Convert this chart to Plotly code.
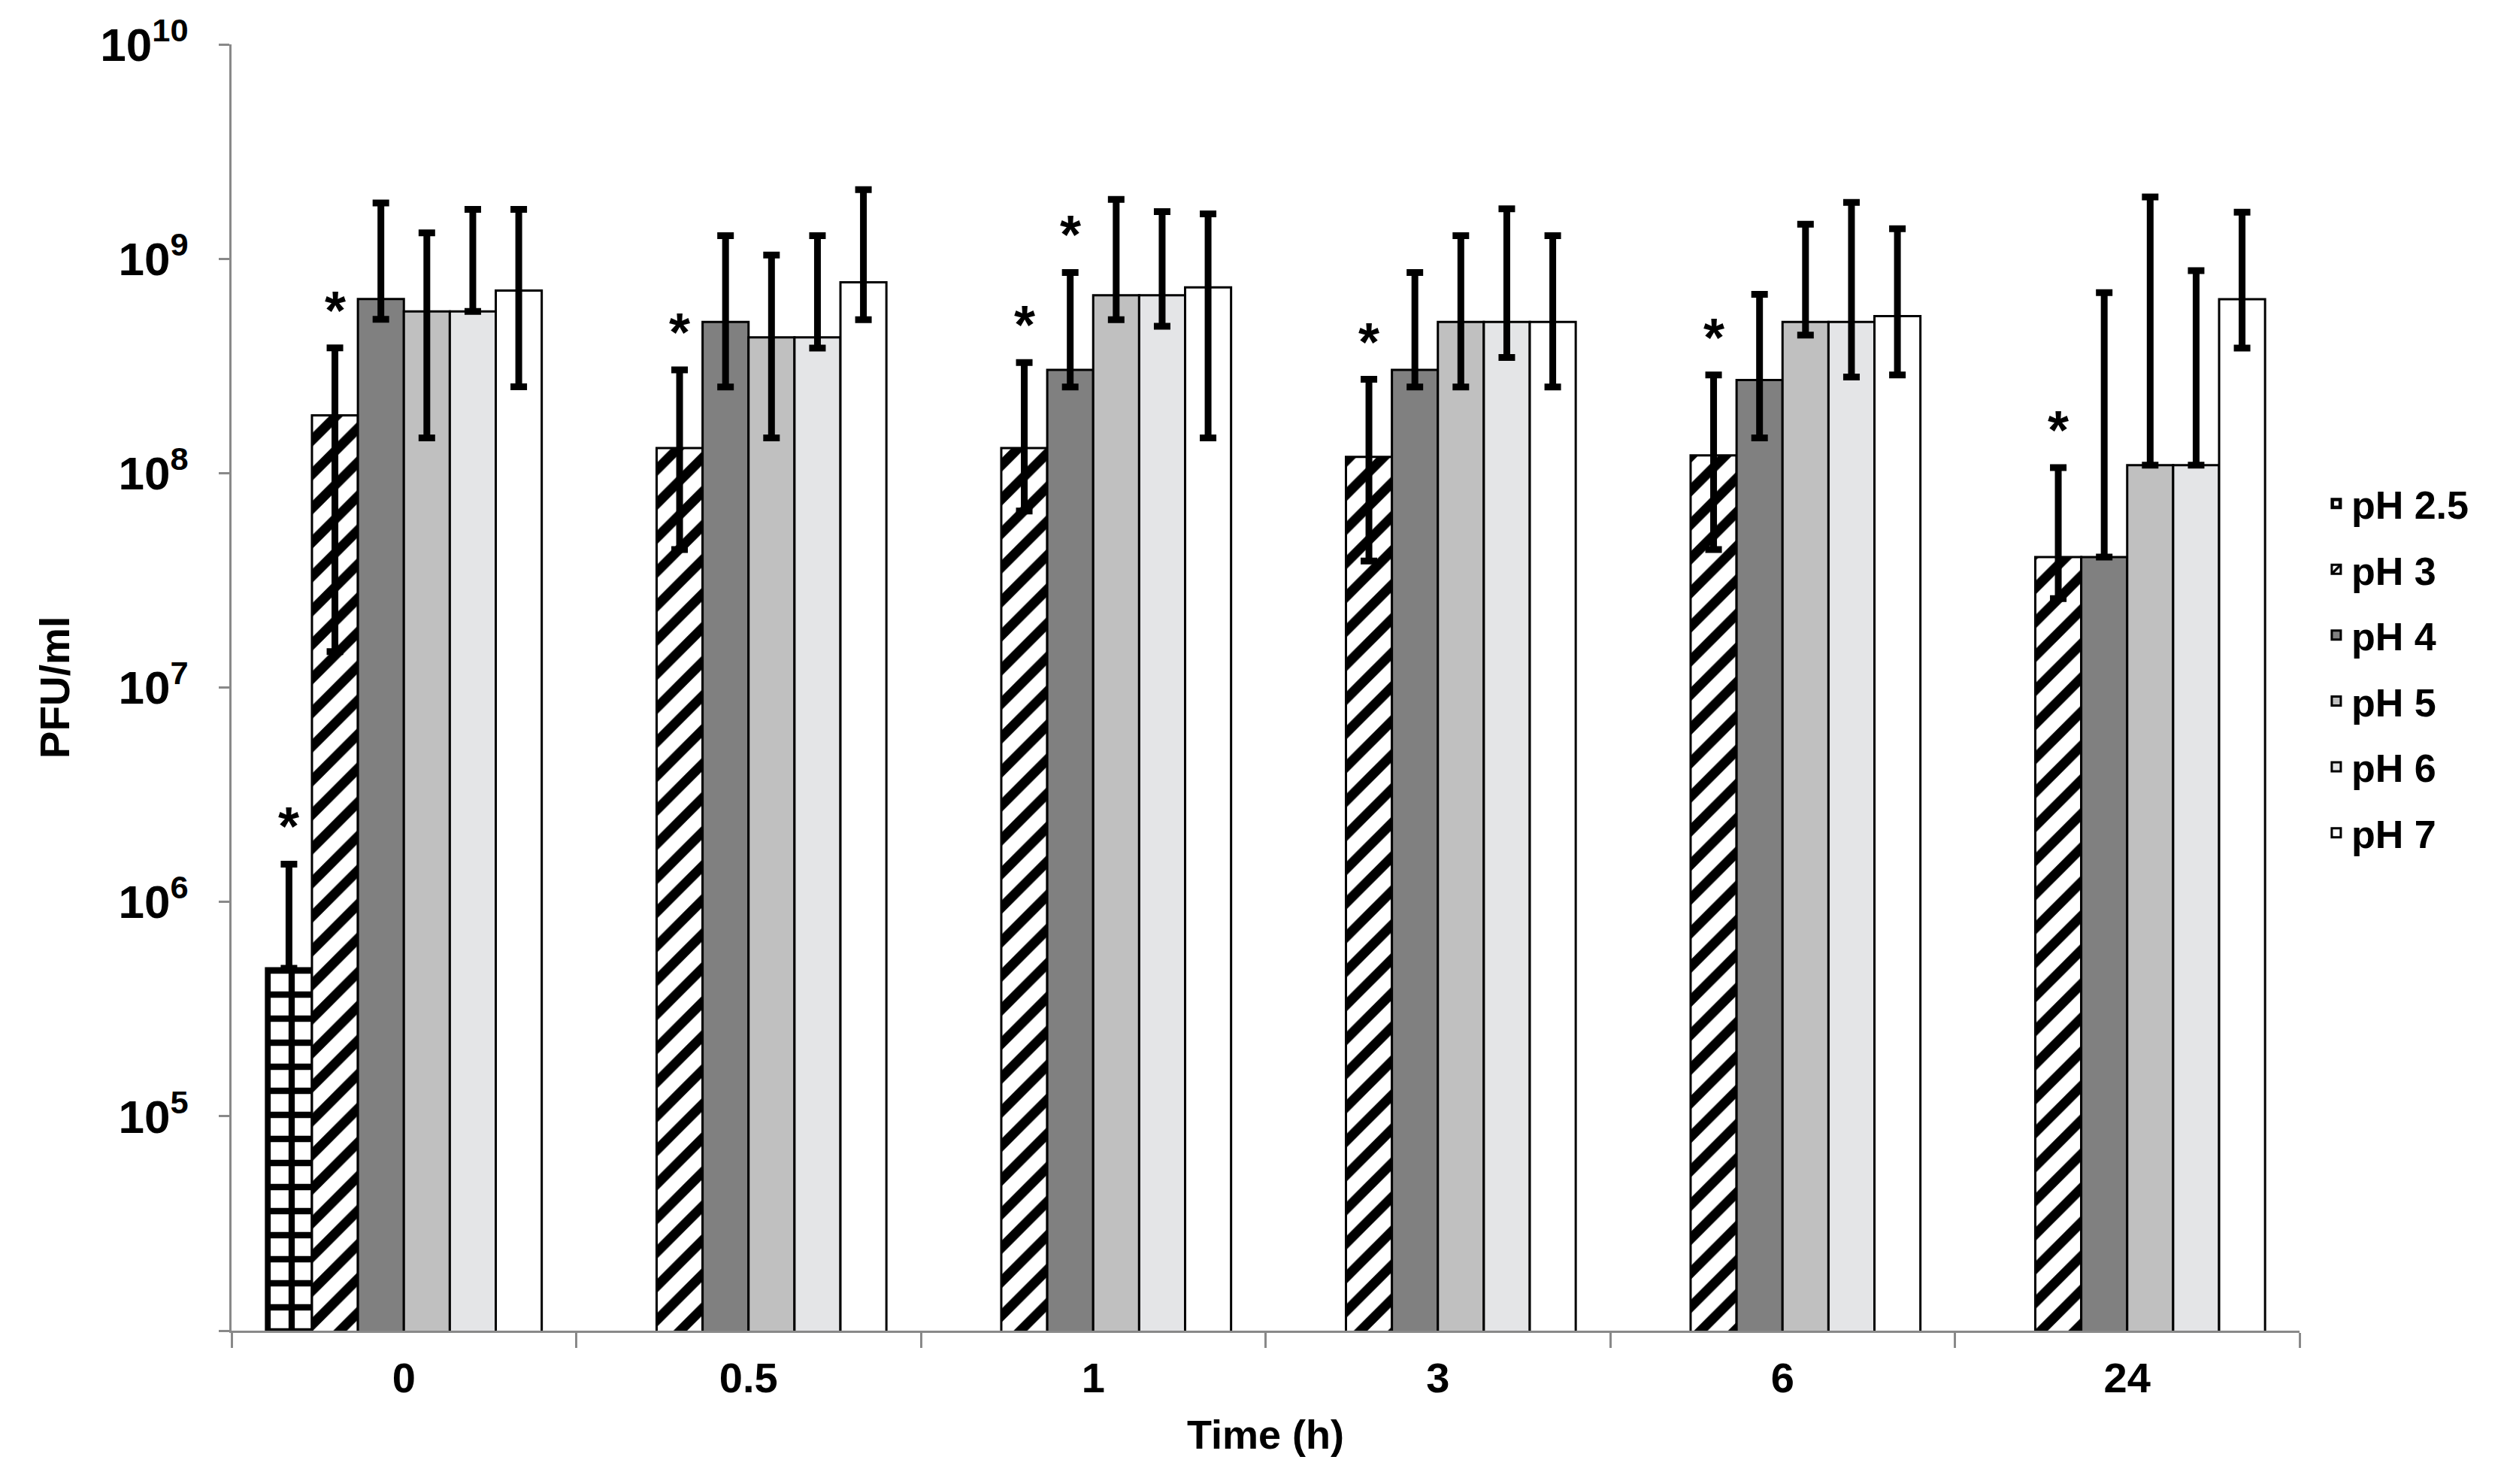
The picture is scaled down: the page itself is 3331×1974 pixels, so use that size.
import math
import plotly.graph_objects as go

# ---------------- data ----------------
times = ["0", "0.5", "1", "3", "6", "24"]
series = ["pH 2.5", "pH 3", "pH 4", "pH 5", "pH 6", "pH 7"]

ph25_mean = [4.9e5, None, None, None, None, None]
ph25_upper = [1.5e6, None, None, None, None, None]
ph25_lower = [4.9e5, None, None, None, None, None]

ph3_mean = [1.86e8, 1.31e8, 1.31e8, 1.19e8, 1.21e8, 4.06e7]
ph3_upper = [3.84e8, 3.03e8, 3.28e8, 2.74e8, 2.87e8, 1.06e8]
ph3_lower = [1.47e7, 4.4e7, 6.65e7, 3.89e7, 4.4e7, 2.6e7]

ph4_mean = [6.49e8, 5.07e8, 3.03e8, 3.03e8, 2.72e8, 4.06e7]
ph4_upper = [1.82e9, 1.28e9, 8.63e8, 8.63e8, 6.82e8, 6.95e8]
ph4_lower = [5.22e8, 2.52e8, 2.52e8, 2.52e8, 1.46e8, 4.06e7]

ph5_mean = [5.68e8, 4.3e8, 6.76e8, 5.07e8, 5.07e8, 1.09e8]
ph5_upper = [1.32e9, 1.04e9, 1.89e9, 1.28e9, 1.45e9, 1.94e9]
ph5_lower = [1.46e8, 1.46e8, 5.2e8, 2.52e8, 4.4e8, 1.09e8]

ph6_mean = [5.68e8, 4.3e8, 6.76e8, 5.07e8, 5.07e8, 1.09e8]
ph6_upper = [1.7e9, 1.28e9, 1.66e9, 1.71e9, 1.83e9, 8.8e8]
ph6_lower = [5.68e8, 3.83e8, 4.84e8, 3.46e8, 2.81e8, 1.09e8]

ph7_mean = [7.1e8, 7.76e8, 7.35e8, 5.07e8, 5.4e8, 6.47e8]
ph7_upper = [1.7e9, 2.1e9, 1.62e9, 1.28e9, 1.38e9, 1.65e9]
ph7_lower = [2.53e8, 5.2e8, 1.46e8, 2.52e8, 2.87e8, 3.83e8]

# significance markers (*): (time, series)
sig_time = ["0", "0", "0.5", "1", "1", "3", "6", "24"]
sig_series = ["pH 2.5", "pH 3", "pH 3", "pH 3", "pH 4", "pH 3", "pH 3", "pH 3"]

ytick_vals = [1e4, 1e5, 1e6, 1e7, 1e8, 1e9, 1e10]
ytick_text = ["", "10<sup>5</sup>", "10<sup>6</sup>", "10<sup>7</sup>",
              "10<sup>8</sup>", "10<sup>9</sup>", "10<sup>10</sup>"]

# ---------------- styling ----------------
FONT = "Liberation Sans, Arial, Helvetica, sans-serif"
AXIS_GREY = "#898989"
BARGAP = 0.2

styles = {
    "pH 2.5": dict(color="white", pattern=dict(shape="+", fgcolor="black", bgcolor="white",
                                               fgopacity=1, size=32, solidity=0.45)),
    "pH 3": dict(color="white", pattern=dict(shape="/", fgcolor="black", bgcolor="white",
                                             fgopacity=1, size=32, solidity=0.4)),
    "pH 4": dict(color="#808080"),
    "pH 5": dict(color="#C0C0C0"),
    "pH 6": dict(color="#E4E5E7"),
    "pH 7": dict(color="#FFFFFF"),
}

data = {
    "pH 2.5": (ph25_mean, ph25_upper, ph25_lower),
    "pH 3": (ph3_mean, ph3_upper, ph3_lower),
    "pH 4": (ph4_mean, ph4_upper, ph4_lower),
    "pH 5": (ph5_mean, ph5_upper, ph5_lower),
    "pH 6": (ph6_mean, ph6_upper, ph6_lower),
    "pH 7": (ph7_mean, ph7_upper, ph7_lower),
}


def diff(a, b):
    return [None if (x is None or y is None) else x - y for x, y in zip(a, b)]


fig = go.Figure()
for name in series:
    mean, upper, lower = data[name]
    st = styles[name]
    marker = dict(color=st["color"], line=dict(color="black", width=3))
    if "pattern" in st:
        marker["pattern"] = st["pattern"]
    fig.add_trace(go.Bar(
        x=times, y=mean, name=name, legendgroup=name,
        marker=marker,
        error_y=dict(type="data", symmetric=False,
                     array=diff(upper, mean), arrayminus=diff(mean, lower),
                     color="black", thickness=9, width=11),
    ))

# asterisks above the error bars
bar_w = (1 - BARGAP) / len(series)
annotations = []
for t, s in zip(sig_time, sig_series):
    ti = times.index(t)
    si = series.index(s)
    up = data[s][1][ti]
    annotations.append(dict(
        x=ti + (si - (len(series) - 1) / 2) * bar_w, y=math.log10(up),
        xref="x", yref="y", text="*", showarrow=False,
        yanchor="bottom", yshift=8,
        font=dict(family=FONT, size=72, color="black", weight="bold"),
    ))

fig.update_layout(
    width=3331, height=1974,
    margin=dict(l=308, r=272, t=59, b=204, autoexpand=False),
    paper_bgcolor="white", plot_bgcolor="white",
    barmode="group", bargap=BARGAP, bargroupgap=0,
    font=dict(family=FONT, color="black", weight="bold"),
    showlegend=True,
    legend=dict(x=1.0105, xanchor="left", y=0.515, yanchor="middle",
                font=dict(family=FONT, size=52, color="black", weight="bold"),
                tracegroupgap=17, bgcolor="rgba(0,0,0,0)", traceorder="grouped"),
    annotations=annotations,
)

fig.update_xaxes(
    type="category", showline=True, linecolor=AXIS_GREY, linewidth=3,
    ticks="outside", tickson="boundaries", ticklen=20, tickwidth=3, tickcolor=AXIS_GREY,
    ticklabelstandoff=12,
    tickfont=dict(family=FONT, size=56, color="black", weight="bold"),
    showgrid=False, zeroline=False,
    title=dict(text="Time (h)", standoff=26,
               font=dict(family=FONT, size=54, color="black", weight="bold")),
)

fig.update_yaxes(
    type="log", range=[4, 10], tickmode="array", tickvals=ytick_vals, ticktext=ytick_text,
    showline=True, linecolor=AXIS_GREY, linewidth=3,
    ticks="outside", ticklen=14, tickwidth=3, tickcolor=AXIS_GREY,
    ticklabelstandoff=28,
    tickfont=dict(family=FONT, size=62, color="black", weight="bold"),
    showgrid=False, zeroline=False,
    title=dict(text="PFU/ml", standoff=24,
               font=dict(family=FONT, size=55, color="black", weight="bold")),
)

fig.write_html("out.html", config={"displayModeBar": False},
               post_script="document.body.style.margin='0';")
